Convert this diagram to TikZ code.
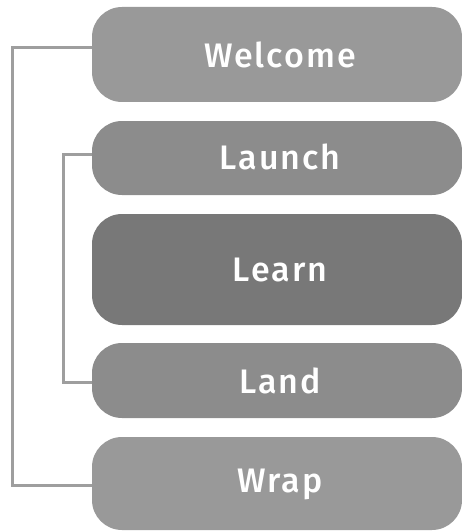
\documentclass[tikz,border=0pt]{standalone}
\usepackage{fontspec}
\setmainfont{Fira Sans}[UprightFont=* Medium, LetterSpace=6]
\begin{document}
\begin{tikzpicture}[x=1pt,y=-1pt,
  stage/.style={rounded corners=30pt},
  label/.style={text=white, font=\fontsize{34}{40}\selectfont},
  bracket/.style={draw=black!38, line width=3pt}]
\useasboundingbox (0,0) rectangle (462,532);
\definecolor{lightstage}{gray}{0.60}
\definecolor{midstage}{gray}{0.55}
\definecolor{darkstage}{gray}{0.47}
% stage boxes, full width to the right edge
\path[stage, fill=lightstage] (92,7) rectangle (462,102);
\path[stage, fill=midstage] (92,121) rectangle (462,195);
\path[stage, fill=darkstage] (92,214) rectangle (462,325);
\path[stage, fill=midstage] (92,343) rectangle (462,418);
\path[stage, fill=lightstage] (92,437) rectangle (462,530);
\node[label] (welcome) at (280,55) {Welcome};
\node[label] (launch) at (280,157) {Launch};
\node[label] (learn) at (280,270) {Learn};
\node[label] (land) at (280,381) {Land};
\node[label] (wrap) at (280,484) {Wrap};
% brackets joining the outer and inner pairs
\coordinate (wl) at (92,48);
\coordinate (wr) at (92,485);
\coordinate (ll) at (92,154);
\coordinate (lr) at (92,382);
\draw[bracket] (wl) -- (12,48) -- (12,485) -- (wr);
\draw[bracket] (ll) -- (63,154) -- (63,382) -- (lr);
\end{tikzpicture}
\end{document}
